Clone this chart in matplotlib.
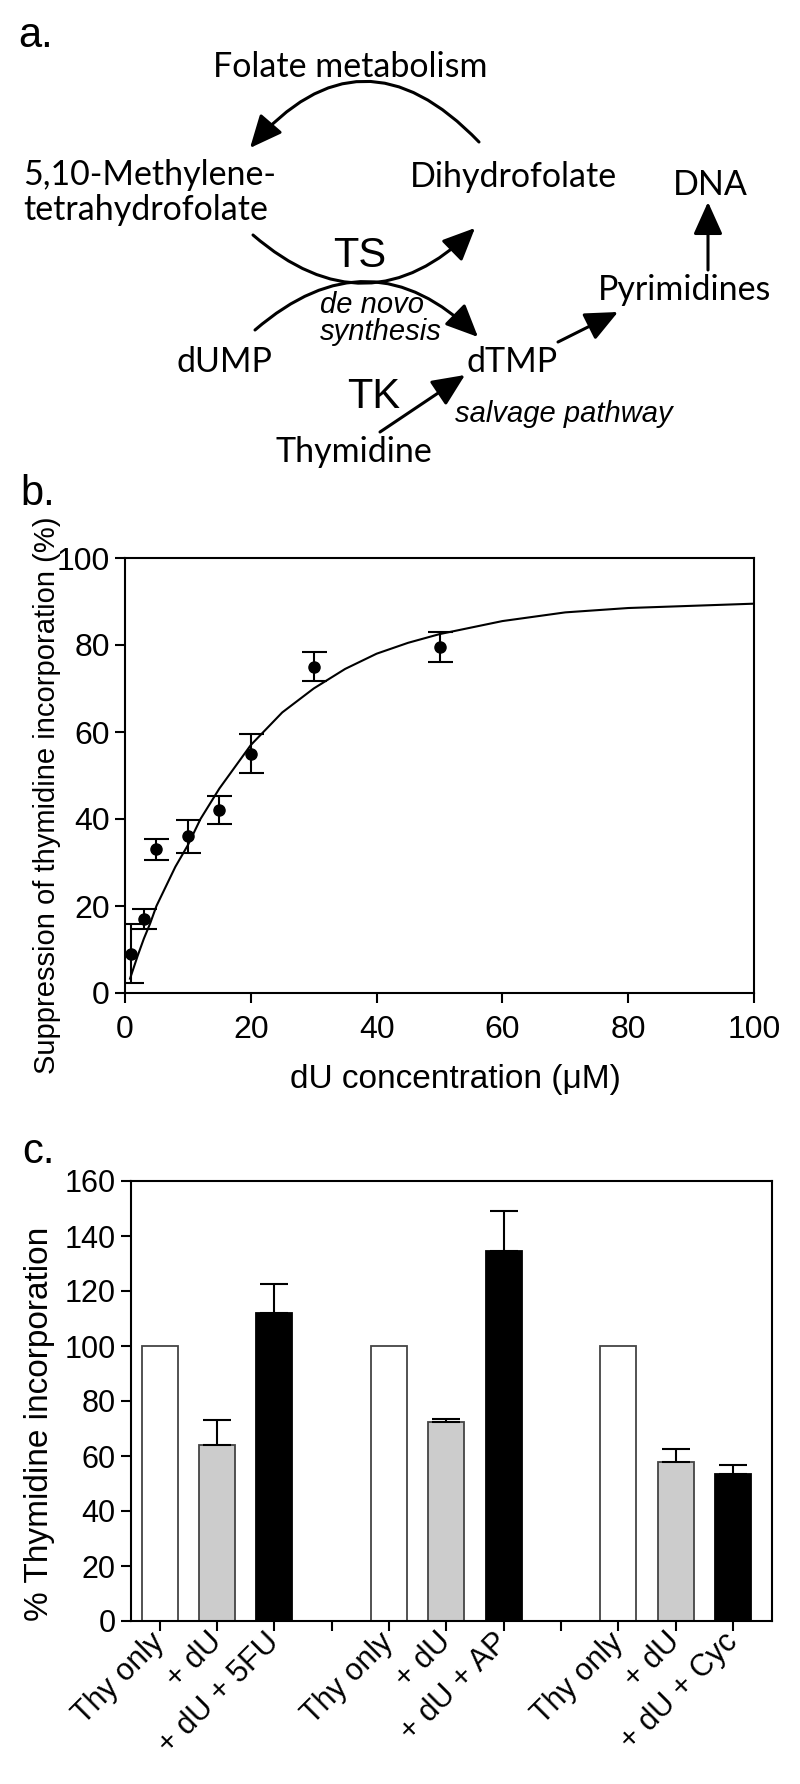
import numpy as np
import matplotlib
matplotlib.use("Agg")
import matplotlib.pyplot as plt

# ---------------- DATA ----------------
# panel b: suppression of thymidine incorporation vs dU concentration
conc = [1, 3, 5, 10, 15, 20, 30, 50]
supp = [9, 17, 33, 36, 42, 55, 75, 79.5]
supp_err = [6.8, 2.3, 2.5, 3.8, 3.2, 4.5, 3.3, 3.4]

# fitted curve
fit_x = [0.8, 2, 3, 4, 5, 6, 8, 10, 12, 15, 18, 20, 25, 30, 35, 40, 45, 50,
         60, 70, 80, 90, 100]
fit_y = [3.3, 8.5, 12.5, 16, 20, 23, 29, 34, 40, 47, 53, 57, 64.5, 70, 74.5,
         78, 80.5, 82.5, 85.5, 87.5, 88.5, 89, 89.5]

# panel c: % thymidine incorporation
drugs = ["5FU", "AP", "Cyc"]
thy_only = [100, 100, 100]
plus_du = [64, 72.5, 58]
plus_du_err = [9.2, 1.1, 4.6]
plus_drug = [112, 134.5, 53.5]
plus_drug_err = [10.5, 14.6, 3.2]

W, H = 800, 1784
fig = plt.figure(figsize=(W / 100, H / 100), dpi=100)

ARIAL = "Liberation Sans"
MYRIAD = "Lato"

# ---------------- PANEL A (diagram, pixel coords) ----------------
ax0 = fig.add_axes([0, 0, 1, 1])
ax0.set_xlim(0, W)
ax0.set_ylim(H, 0)
ax0.axis("off")
ax0.patch.set_alpha(0)


def word(x, y, s, size=24.5, family=MYRIAD, style="normal"):
    ax0.text(x, y, s, fontsize=size, family=family, style=style,
             ha="left", va="baseline")


def arrow(tail, tip, rad=0.0, hl=1.0, hw=0.45):
    ax0.annotate("", xy=tip, xytext=tail,
                 arrowprops=dict(arrowstyle="-|>,head_length=%s,head_width=%s" % (hl, hw),
                                 mutation_scale=20, lw=2.2, color="black",
                                 connectionstyle="arc3,rad=%s" % rad,
                                 shrinkA=0, shrinkB=0))


word(18, 47, "a.", size=30, family=ARIAL)
word(213, 77, "Folate metabolism")
word(23, 185, "5,10-Methylene-")
word(23, 220, "tetrahydrofolate")
word(410, 187, "Dihydrofolate")
word(673, 195, "DNA")
word(333, 267, "TS", size=30, family=ARIAL)
word(320, 313, "de novo", size=21, family=ARIAL, style="italic")
word(320, 340, "synthesis", size=21, family=ARIAL, style="italic")
word(177, 372, "dUMP")
word(467, 372, "dTMP")
word(598, 300, "Pyrimidines")
word(347, 408, "TK", size=30, family=ARIAL)
word(455, 422, "salvage pathway", size=21, family=ARIAL, style="italic")
word(275, 462, "Thymidine")

arrow((479, 142), (250, 148), rad=0.55)
arrow((253, 235), (475, 228), rad=0.46)
arrow((255, 330), (478, 337), rad=-0.46)
arrow((708, 270), (708, 202))
arrow((558, 342), (618, 312))
arrow((380, 432), (465, 375))

word(20, 505, "b.", size=30, family=ARIAL)
word(22, 1163, "c.", size=30, family=ARIAL)

# ---------------- PANEL B ----------------
axb = fig.add_axes([125 / W, 1 - 993 / H, 629 / W, 435 / H])
axb.plot(fit_x, fit_y, color="black", lw=1.5)
axb.errorbar(conc, supp, yerr=supp_err, fmt="o", color="black",
             markersize=8, capsize=9, elinewidth=1.5, capthick=1.5)
axb.set_xlim(0, 100)
axb.set_ylim(0, 100)
axb.set_xticks([0, 20, 40, 60, 80, 100])
axb.set_yticks([0, 20, 40, 60, 80, 100])
axb.tick_params(axis="both", direction="out", length=7, width=1.5,
                labelsize=23, top=False, right=False)
axb.tick_params(axis="x", pad=9)
axb.tick_params(axis="y", pad=4)
for lab in axb.get_xticklabels() + axb.get_yticklabels():
    lab.set_family(ARIAL)
for sp in axb.spines.values():
    sp.set_linewidth(1.5)
axb.set_ylabel("Suppression of thymidine incorporation (%)", fontsize=21, family=ARIAL)
axb.yaxis.set_label_coords(-0.1015, 0.455)
axb.set_xlabel("dU concentration (\u03bcM)", fontsize=24, family=ARIAL)
axb.xaxis.set_label_coords(0.525, -0.163)

# ---------------- PANEL C ----------------
axc = fig.add_axes([131 / W, 1 - 1621 / H, 641 / W, 440 / H])
bw = 0.63
tick_pos = []
tick_lab = []
for g, d in enumerate(drugs):
    x0 = 4 * g
    axc.bar(x0, thy_only[g], bw, color="white", edgecolor="#444444", lw=1.3, zorder=2)
    axc.bar(x0 + 1, plus_du[g], bw, color="#cccccc", edgecolor="#444444", lw=1.3, zorder=2)
    axc.bar(x0 + 2, plus_drug[g], bw, color="black", edgecolor="black", lw=1.3, zorder=2)
    axc.errorbar([x0 + 1, x0 + 2], [plus_du[g], plus_drug[g]],
                 yerr=[[0, 0], [plus_du_err[g], plus_drug_err[g]]],
                 fmt="none", ecolor="black", elinewidth=1.5, capsize=10,
                 capthick=1.5, zorder=3)
    tick_pos += [x0, x0 + 1, x0 + 2]
    tick_lab += ["Thy only", "+ dU", "+ dU + " + d]
    if g < 2:
        tick_pos.append(x0 + 3)
        tick_lab.append("")
axc.set_xlim(-0.5, 10.68)
axc.set_ylim(0, 160)
axc.set_yticks(range(0, 161, 20))
axc.set_xticks(tick_pos)
axc.set_xticklabels(tick_lab, rotation=45, ha="right", va="center",
                    rotation_mode="anchor")
axc.tick_params(axis="both", direction="out", length=7, width=1.5,
                labelsize=22, top=False, right=False)
axc.tick_params(axis="x", pad=5)
axc.tick_params(axis="y", pad=4)
for lab in axc.get_xticklabels() + axc.get_yticklabels():
    lab.set_family(ARIAL)
for sp in axc.spines.values():
    sp.set_linewidth(1.5)
axc.set_ylabel("% Thymidine incorporation", fontsize=24, family=ARIAL)
axc.yaxis.set_label_coords(-0.118, 0.448)

fig.savefig("out.png", dpi=100)
